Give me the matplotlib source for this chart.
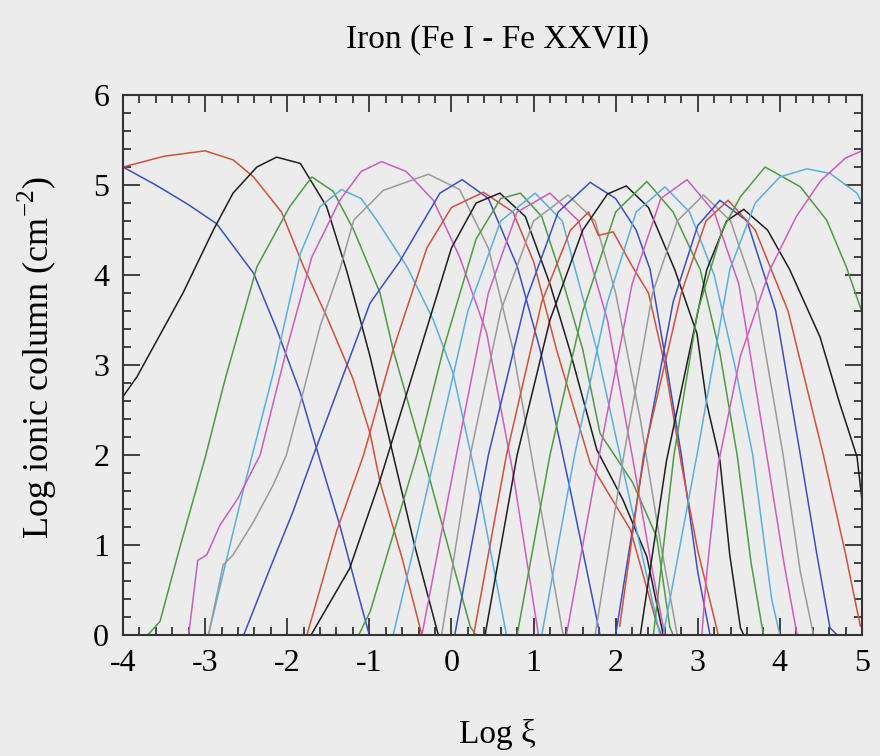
import matplotlib
matplotlib.use('Agg')
import matplotlib.pyplot as plt
from matplotlib.ticker import MultipleLocator

# ion columns: log xi vs log ionic column
fe01_x = [-4.0, -3.6, -3.2, -2.86, -2.41, -2.13, -1.84, -1.6, -1.36, -1.15, -1.0]
fe01_y = [5.2, 5.0, 4.78, 4.57, 4.02, 3.4, 2.69, 1.94, 1.22, 0.5, 0.0]
fe02_x = [-4.0, -3.5, -3.0, -2.66, -2.41, -2.07, -1.8, -1.52, -1.2, -0.99, -0.87, -0.6, -0.36]
fe02_y = [5.2, 5.32, 5.38, 5.28, 5.09, 4.70, 4.09, 3.54, 2.85, 2.24, 1.7, 0.85, 0.0]
fe03_x = [-4.0, -3.83, -3.27, -2.9, -2.66, -2.37, -2.13, -1.84, -1.52, -1.28, -1.11, -0.99, -0.71, -0.45, -0.16]
fe03_y = [2.65, 2.87, 3.80, 4.5, 4.91, 5.2, 5.31, 5.24, 4.76, 4.06, 3.5, 3.09, 2.0, 1.0, 0.0]
fe04_x = [-3.7, -3.55, -3.3, -3.0, -2.76, -2.37, -1.97, -1.70, -1.44, -1.19, -0.87, -0.71, -0.3, 0.0, 0.23, 0.3]
fe04_y = [0.0, 0.15, 1.0, 1.97, 2.83, 4.09, 4.76, 5.09, 4.93, 4.5, 3.80, 3.17, 1.85, 0.85, 0.09, 0.0]
fe05_x = [-2.96, -2.75, -2.53, -2.17, -1.84, -1.6, -1.34, -1.1, -0.91, -0.54, -0.22, 0.02, 0.35, 0.67]
fe05_y = [0.0, 0.8, 1.63, 2.91, 4.24, 4.76, 4.95, 4.85, 4.61, 4.09, 3.5, 2.91, 1.54, 0.0]
fe06_x = [-3.20, -3.09, -2.98, -2.82, -2.60, -2.33, -2.0, -1.7, -1.36, -1.1, -0.85, -0.55, -0.22, 0.10, 0.43, 0.75, 1.06]
fe06_y = [0.0, 0.83, 0.89, 1.22, 1.52, 2.0, 3.2, 4.2, 4.83, 5.15, 5.26, 5.15, 4.83, 4.2, 3.35, 1.8, 0.0]
fe07_x = [-2.96, -2.78, -2.66, -2.41, -2.17, -2.01, -1.82, -1.60, -1.36, -1.19, -0.83, -0.28, 0.1, 0.45, 0.75, 1.05, 1.36]
fe07_y = [0.0, 0.78, 0.89, 1.26, 1.67, 2.0, 2.65, 3.43, 4.06, 4.61, 4.94, 5.12, 4.95, 4.3, 3.17, 1.6, 0.0]
fe08_x = [-2.53, -2.21, -1.93, -1.68, -1.28, -0.99, -0.63, -0.38, -0.14, 0.13, 0.45, 0.8, 1.08, 1.45, 1.81]
fe08_y = [0.0, 0.74, 1.37, 2.0, 2.98, 3.69, 4.15, 4.54, 4.91, 5.06, 4.85, 4.1, 3.17, 1.6, 0.0]
fe09_x = [-1.76, -1.40, -1.07, -0.71, -0.3, 0.0, 0.39, 0.75, 1.0, 1.28, 1.69, 2.18, 2.50, 2.56]
fe09_y = [0.0, 1.15, 2.0, 3.17, 4.3, 4.75, 4.92, 4.7, 4.15, 3.17, 1.91, 1.17, 0.13, 0.0]
fe10_x = [-1.71, -1.24, -0.87, -0.38, 0.0, 0.3, 0.59, 0.9, 1.2, 1.44, 1.77, 2.09, 2.38, 2.58]
fe10_y = [0.0, 0.74, 1.72, 3.17, 4.3, 4.8, 4.91, 4.65, 3.9, 3.17, 2.06, 1.5, 0.87, 0.0]
fe11_x = [-1.13, -0.99, -0.42, -0.10, 0.3, 0.6, 0.84, 1.1, 1.35, 1.60, 1.81, 2.21, 2.50, 2.66, 2.7]
fe11_y = [0.0, 0.26, 2.0, 3.17, 4.4, 4.85, 4.91, 4.65, 3.95, 3.17, 2.24, 1.69, 1.09, 0.09, 0.0]
fe12_x = [-0.71, -0.45, -0.20, 0.2, 0.6, 1.02, 1.35, 1.77, 2.1, 2.54]
fe12_y = [0.0, 1.0, 2.0, 3.6, 4.6, 4.91, 4.6, 3.17, 1.8, 0.0]
fe13_x = [-0.36, 0.06, 0.45, 0.8, 1.20, 1.55, 1.9, 2.2, 2.45, 2.6]
fe13_y = [0.0, 2.0, 3.8, 4.7, 4.91, 4.6, 3.5, 2.0, 0.7, 0.0]
fe14_x = [-0.12, 0.23, 0.6, 1.0, 1.42, 1.75, 2.0, 2.3, 2.55, 2.75]
fe14_y = [0.0, 2.0, 3.6, 4.6, 4.89, 4.6, 3.8, 2.4, 1.0, 0.0]
fe15_x = [0.04, 0.45, 0.9, 1.3, 1.69, 2.0, 2.25, 2.42, 2.62, 2.80, 3.0, 3.15]
fe15_y = [0.0, 2.0, 3.7, 4.7, 5.03, 4.85, 4.5, 4.06, 3.0, 2.0, 0.7, 0.0]
fe16_x = [0.27, 0.67, 1.1, 1.45, 1.67, 1.79, 1.97, 2.2, 2.4, 2.6, 2.8, 3.0, 3.25]
fe16_y = [0.0, 2.0, 3.7, 4.5, 4.70, 4.44, 4.48, 4.1, 3.8, 3.0, 1.9, 0.94, 0.0]
fe17_x = [0.41, 0.80, 1.2, 1.6, 1.9, 2.13, 2.4, 2.72, 2.99, 3.11, 3.27, 3.39, 3.52, 3.56]
fe17_y = [0.0, 2.0, 3.5, 4.5, 4.9, 4.99, 4.75, 4.06, 3.35, 2.57, 1.94, 0.89, 0.08, 0.0]
fe18_x = [0.80, 1.20, 1.6, 2.0, 2.38, 2.7, 3.03, 3.27, 3.48, 3.65, 3.80]
fe18_y = [0.0, 2.0, 3.6, 4.7, 5.04, 4.7, 4.06, 3.13, 2.0, 0.8, 0.0]
fe19_x = [1.1, 1.5, 1.9, 2.25, 2.60, 2.9, 3.2, 3.45, 3.67, 3.9, 4.0]
fe19_y = [0.0, 2.0, 3.7, 4.7, 4.98, 4.7, 4.0, 3.0, 2.0, 0.4, 0.0]
fe20_x = [1.4, 1.8, 2.2, 2.55, 2.87, 3.2, 3.5, 3.84, 4.05, 4.21]
fe20_y = [0.0, 2.0, 3.9, 4.85, 5.06, 4.7, 3.9, 2.0, 0.8, 0.0]
fe21_x = [1.75, 2.1, 2.45, 2.75, 3.07, 3.4, 3.7, 4.04, 4.25, 4.41]
fe21_y = [0.0, 2.0, 3.8, 4.6, 4.89, 4.6, 3.8, 2.0, 0.7, 0.0]
fe22_x = [2.0, 2.35, 2.7, 3.0, 3.27, 3.6, 3.95, 4.25, 4.45, 4.61, 4.7]
fe22_y = [0.0, 2.0, 3.7, 4.55, 4.83, 4.6, 3.6, 2.0, 0.9, 0.08, 0.0]
fe23_x = [2.05, 2.34, 2.8, 3.1, 3.37, 3.7, 4.1, 4.53, 4.8, 4.98]
fe23_y = [0.1, 2.0, 3.8, 4.6, 4.83, 4.5, 3.6, 2.0, 0.9, 0.1]
fe24_x = [2.30, 2.62, 3.11, 3.35, 3.56, 3.85, 4.12, 4.49, 4.73, 4.94, 5.0]
fe24_y = [0.0, 1.94, 4.06, 4.6, 4.73, 4.5, 4.06, 3.31, 2.57, 1.98, 1.5]
fe25_x = [2.46, 2.71, 3.0, 3.3, 3.52, 3.82, 4.25, 4.57, 4.81, 5.0]
fe25_y = [0.0, 2.0, 3.6, 4.5, 4.87, 5.2, 4.98, 4.61, 4.09, 3.59]
fe26_x = [2.58, 2.99, 3.39, 3.7, 4.0, 4.33, 4.61, 4.94, 5.0]
fe26_y = [0.0, 2.0, 4.06, 4.8, 5.09, 5.18, 5.13, 4.91, 4.8]
fe27_x = [3.05, 3.1, 3.25, 3.52, 3.88, 4.2, 4.5, 4.8, 5.0]
fe27_y = [0.0, 0.6, 1.9, 3.1, 4.06, 4.65, 5.05, 5.3, 5.38]

ions = [(fe01_x, fe01_y), (fe02_x, fe02_y), (fe03_x, fe03_y), (fe04_x, fe04_y),
        (fe05_x, fe05_y), (fe06_x, fe06_y), (fe07_x, fe07_y), (fe08_x, fe08_y),
        (fe09_x, fe09_y), (fe10_x, fe10_y), (fe11_x, fe11_y), (fe12_x, fe12_y),
        (fe13_x, fe13_y), (fe14_x, fe14_y), (fe15_x, fe15_y), (fe16_x, fe16_y),
        (fe17_x, fe17_y), (fe18_x, fe18_y), (fe19_x, fe19_y), (fe20_x, fe20_y),
        (fe21_x, fe21_y), (fe22_x, fe22_y), (fe23_x, fe23_y), (fe24_x, fe24_y),
        (fe25_x, fe25_y), (fe26_x, fe26_y), (fe27_x, fe27_y)]

# colour cycle used by the original plot
colours = ['#3b4fc4', '#d2503c', '#1e1e1e', '#4f9a45', '#5aaee0', '#cf5cc0', '#9a9a9a']

plt.rcParams['font.family'] = ['Liberation Serif', 'DejaVu Serif']
plt.rcParams['axes.unicode_minus'] = False
plt.rcParams['mathtext.fontset'] = 'custom'
plt.rcParams['mathtext.rm'] = 'Liberation Serif'

bg = '#ececec'
fig = plt.figure(figsize=(8.8, 7.56), dpi=100, facecolor=bg)
ax = fig.add_axes([0.1398, 0.160, 0.8397, 0.7143], facecolor=bg)

for i, (xs, ys) in enumerate(ions):
    ax.plot(xs, ys, color=colours[i % len(colours)], lw=1.1)

ax.set_xlim(-4, 5)
ax.set_ylim(0, 6)
ax.xaxis.set_major_locator(MultipleLocator(1))
ax.xaxis.set_minor_locator(MultipleLocator(0.2))
ax.yaxis.set_major_locator(MultipleLocator(1))
ax.yaxis.set_minor_locator(MultipleLocator(0.2))
ax.tick_params(which='both', direction='in', top=True, right=True, width=1.3, color='#333333')
ax.tick_params(which='major', length=12, labelsize=23, pad=10)
ax.tick_params(which='minor', length=6)
for s in ax.spines.values():
    s.set_linewidth(1.5)
    s.set_color('#333333')

fig.text(0.565, 0.947, 'Iron (Fe I - Fe XXVII)', ha='center', va='center', fontsize=24)
fig.text(0.565, 0.028, 'Log ξ', ha='center', va='center', fontsize=24)
fig.text(0.042, 0.527, r'Log ionic column (cm$^{\mathrm{-2}}$)', ha='center', va='center',
         rotation=90, fontsize=26)

fig.savefig('out.png', dpi=100, facecolor=bg)
